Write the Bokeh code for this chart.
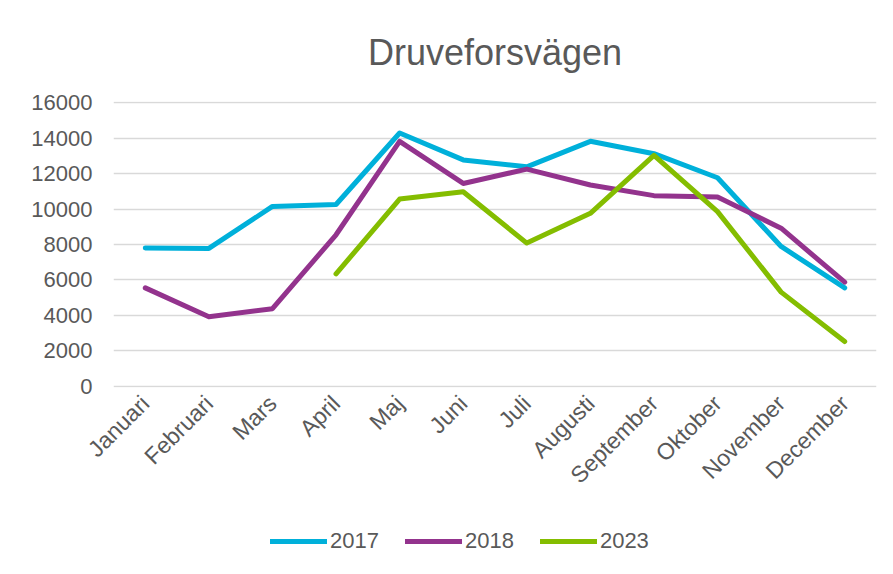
import math
from bokeh.plotting import figure
from bokeh.layouts import column
from bokeh.models import FactorRange, Range1d, FixedTicker, Legend, LegendItem
from bokeh.embed import file_html
from bokeh.resources import INLINE

months = ["Januari", "Februari", "Mars", "April", "Maj", "Juni", "Juli",
          "Augusti", "September", "Oktober", "November", "December"]
y2017 = [7800, 7780, 10150, 10260, 14300, 12780, 12390, 13830, 13130, 11770, 7890, 5550]
y2018 = [5550, 3920, 4370, 8550, 13830, 11450, 12260, 11360, 10760, 10680, 8920, 5870]
months_2023 = ["April", "Maj", "Juni", "Juli", "Augusti", "September", "Oktober", "November", "December"]
y2023 = [6340, 10570, 10980, 8080, 9760, 13040, 9860, 5310, 2520]
series_names = ["2017", "2018", "2023"]
colors = ["#00B0DA", "#93338D", "#84BD00"]
y_ticks = [0, 2000, 4000, 6000, 8000, 10000, 12000, 14000, 16000]

FONT = "Liberation Sans"
GREY = "#595959"

p = figure(width=893, height=508, x_range=FactorRange(*months, range_padding=0),
           y_range=Range1d(-80, 16080), output_backend="svg", toolbar_location=None,
           min_border_left=113, min_border_right=17, min_border_top=99, min_border_bottom=121)
p.title.text = "Druveforsvägen"
p.title.align = "center"
p.title.text_font = FONT
p.title.text_font_size = "36px"
p.title.text_font_style = "normal"
p.title.text_color = GREY
p.title.standoff = 58
p.outline_line_color = None

p.xgrid.grid_line_color = None
p.ygrid.grid_line_color = "#D9D9D9"
p.ygrid.grid_line_width = 1.5
p.yaxis.ticker = FixedTicker(ticks=y_ticks)

for ax in (p.xaxis[0], p.yaxis[0]):
    ax.axis_line_color = None
    ax.major_tick_line_color = None
    ax.minor_tick_line_color = None
    ax.major_tick_out = 0
    ax.major_tick_in = 0
    ax.major_label_text_font = FONT
    ax.major_label_text_font_size = "22px"
    ax.major_label_text_color = GREY
p.xaxis.major_label_text_font_size = "23px"
p.yaxis.major_label_standoff = 21
p.xaxis.major_label_orientation = math.pi / 4
p.xaxis.major_label_standoff = 12

p.line(months, y2017, line_color=colors[0], line_width=5, line_cap="round", line_join="round")
p.line(months, y2018, line_color=colors[1], line_width=5, line_cap="round", line_join="round")
p.line(months_2023, y2023, line_color=colors[2], line_width=5, line_cap="round", line_join="round")

# legend strip below the chart; its proxy lines hold the series values but lie outside its view
pl = figure(width=893, height=66, x_range=Range1d(0, 1), y_range=Range1d(0, 1),
            output_backend="svg", toolbar_location=None, min_border=0)
pl.axis.visible = False
pl.grid.grid_line_color = None
pl.outline_line_color = None
items = []
for name, c, vals in zip(series_names, colors, [y2017, y2018, y2023]):
    r = pl.line(x=vals, y=vals, line_color=c, line_width=5, line_cap="round")
    items.append(LegendItem(label=name, renderers=[r]))
legend = Legend(items=items, orientation="horizontal", location=(157, 20),
                glyph_width=57, glyph_height=24, label_standoff=3, spacing=26,
                padding=0, margin=0, border_line_color=None, background_fill_alpha=0,
                label_text_font=FONT, label_text_font_size="22px", label_text_color=GREY)
pl.add_layout(legend, "center")

open("out.html", "w").write(file_html(column(p, pl), INLINE))
